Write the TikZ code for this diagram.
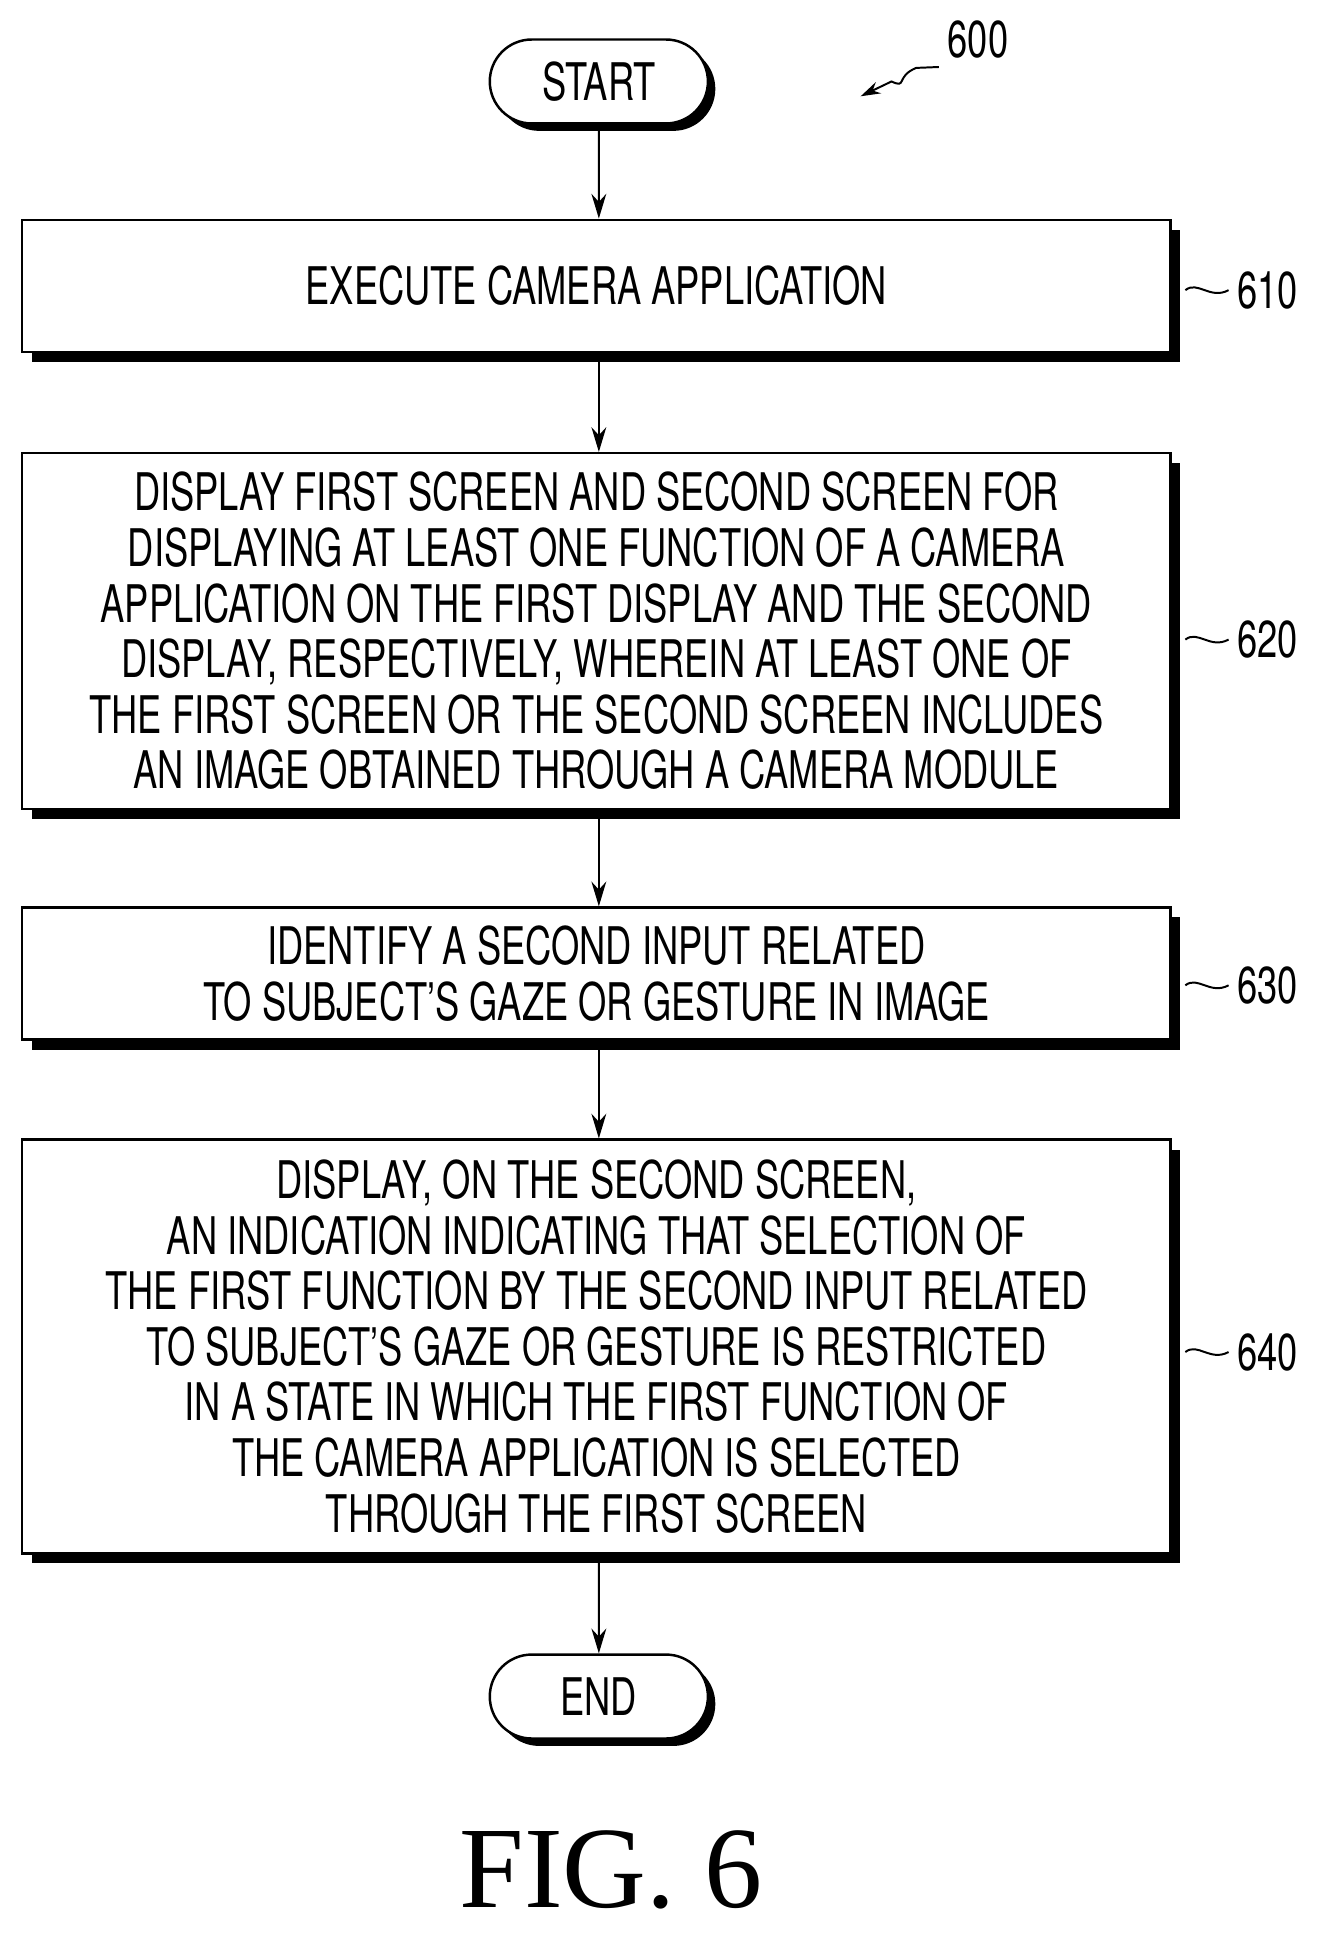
\documentclass[tikz,border=0pt]{standalone}
\usepackage{fontspec}
\setmainfont[FakeStretch=0.7]{TeX Gyre Heros}
\newfontfamily\figfont{Liberation Serif}
\usetikzlibrary{shadows,arrows.meta,shapes.misc}
\begin{document}
\begin{tikzpicture}[x=0.5pt,y=-0.5pt,
  every node/.style={font=\fontsize{21}{22.5}\selectfont},
  stepbox/.style={draw,line width=1pt,fill=white,minimum width=465pt,align=center,
     general shadow={shadow xshift=4pt,shadow yshift=-4pt,fill=black}},
  term/.style={draw,line width=1pt,fill=white,rounded rectangle,minimum width=95pt,minimum height=34pt,
     general shadow={shadow xshift=3pt,shadow yshift=-3pt,fill=black}},
  arr/.style={-{Stealth[length=10pt,width=6pt]},line width=0.8pt},
  lab/.style={font=\fontsize{21}{22.5}\selectfont}]
\useasboundingbox (0,0) rectangle (1070,1572);
\node[term] (s) at (485,66) {START};
\node[stepbox,minimum height=53.5pt] (a) at (483,231.5) {EXECUTE CAMERA APPLICATION};
\node[stepbox,minimum height=144pt] (b) at (483,511) {DISPLAY FIRST SCREEN AND SECOND SCREEN FOR\\DISPLAYING AT LEAST ONE FUNCTION OF A CAMERA\\APPLICATION ON THE FIRST DISPLAY AND THE SECOND\\DISPLAY, RESPECTIVELY, WHEREIN AT LEAST ONE OF\\THE FIRST SCREEN OR THE SECOND SCREEN INCLUDES\\AN IMAGE OBTAINED THROUGH A CAMERA MODULE};
\node[stepbox,minimum height=53.5pt] (c) at (483,788.5) {IDENTIFY A SECOND INPUT RELATED\\TO SUBJECT'S GAZE OR GESTURE IN IMAGE};
\node[stepbox,minimum height=167.5pt] (d) at (483,1090.5) {DISPLAY, ON THE SECOND SCREEN,\\AN INDICATION INDICATING THAT SELECTION OF\\THE FIRST FUNCTION BY THE SECOND INPUT RELATED\\TO SUBJECT'S GAZE OR GESTURE IS RESTRICTED\\IN A STATE IN WHICH THE FIRST FUNCTION OF\\THE CAMERA APPLICATION IS SELECTED\\THROUGH THE FIRST SCREEN};
\node[term] (e) at (485,1374) {END};
\draw[arr] (s) -- (s |- a.north);
\draw[arr] (a.south -| s) -- (s |- b.north);
\draw[arr] (b.south -| s) -- (s |- c.north);
\draw[arr] (c.south -| s) -- (s |- d.north);
\draw[arr] (d.south -| s) -- (e);
\foreach \n/\t/\y in {a/610/235,b/620/518,c/630/798,d/640/1095}{
  \node[lab,anchor=west] (l\t) at (995,\y) {\t};
  \draw[line width=0.8pt] (960,\y) .. controls (970,\y-8) and (980,\y+8) .. (l\t.west);
}
\node[lab] (l600) at (792,32) {600};
\coordinate (p600) at (697,78);
\draw[line width=0.8pt,-{Stealth[length=8pt,width=5pt]}] (l600.south west) -- (742,55) .. controls (725,62) and (735,72) .. (722,66) -- (p600);
\node[font=\figfont\fontsize{47}{52}\selectfont] (fig) at (495,1514) {FIG. 6};
\end{tikzpicture}
\end{document}
